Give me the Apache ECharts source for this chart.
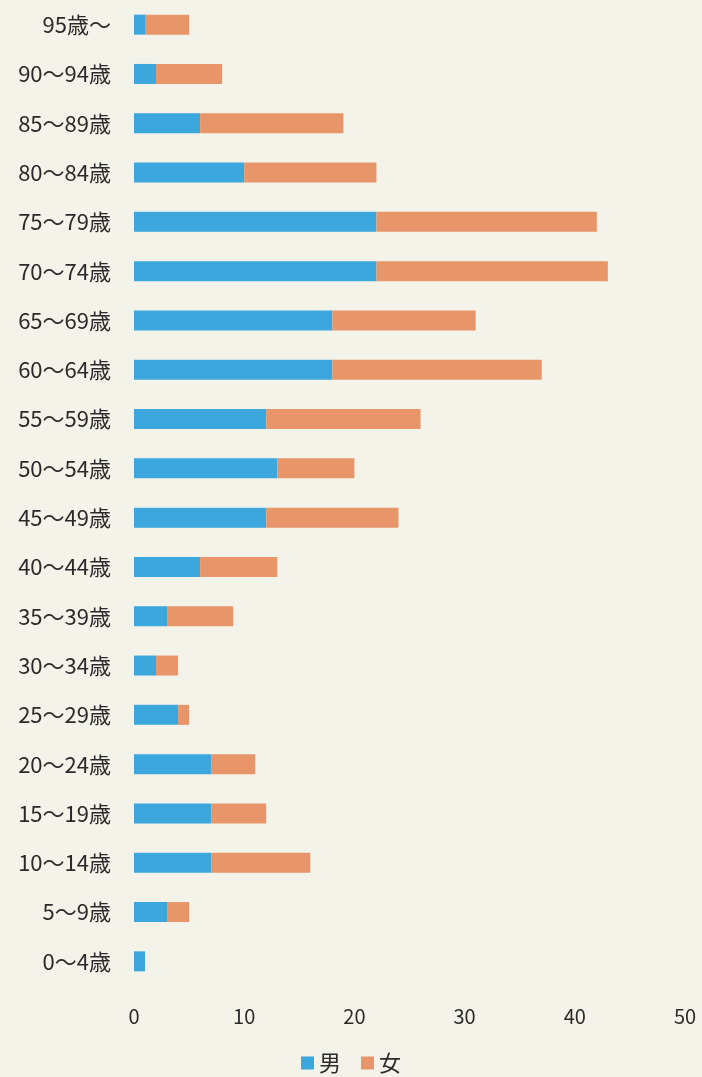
<!DOCTYPE html>
<html><head><meta charset="utf-8">
<script src="https://cdn.jsdelivr.net/npm/echarts@6/dist/echarts.min.js"></script>
<style>html,body{margin:0;padding:0;background:#f4f3ea;}#c{width:702px;height:1077px;}</style>
</head><body><div id="c"></div>
<script>
const categories = ['0～4歳','5～9歳','10～14歳','15～19歳','20～24歳','25～29歳','30～34歳','35～39歳','40～44歳','45～49歳','50～54歳','55～59歳','60～64歳','65～69歳','70～74歳','75～79歳','80～84歳','85～89歳','90～94歳','95歳～'];
const male   = [1,3,7,7,7,4,2,3,6,12,13,12,18,18,22,22,10,6,2,1];
const female = [0,2,9,5,4,1,2,6,7,12,7,14,19,13,21,20,12,13,6,4];
const xTicks = [0,10,20,30,40,50];
const font = '"Noto Sans CJK JP", "Noto Sans", sans-serif';
const chart = echarts.init(document.getElementById('c'));
chart.setOption({
  backgroundColor: '#f4f3ea',
  animation: false,
  textStyle: {fontFamily: font},
  grid: {left: 134, right: 17, top: -2, height: 988, containLabel: false},
  xAxis: {type: 'value', min: xTicks[0], max: xTicks[xTicks.length-1], interval: 10,
    axisLine: {show: false}, axisTick: {show: false}, splitLine: {show: false},
    axisLabel: {color: '#2a2a2a', fontSize: 20, margin: 20, fontFamily: font}},
  yAxis: {type: 'category', data: categories,
    axisLine: {show: false}, axisTick: {show: false},
    axisLabel: {color: '#2a2a2a', fontSize: 22, margin: 23, fontFamily: font}},
  legend: {bottom: -2, left: 'center', itemWidth: 13, itemHeight: 13, itemGap: 20,
    icon: 'rect', textStyle: {fontSize: 22, color: '#2a2a2a', fontFamily: font},
    data: ['男','女']},
  series: [
    {name: '男', type: 'bar', stack: 't', data: male, barWidth: 20,
     itemStyle: {color: '#3ba7dc'}},
    {name: '女', type: 'bar', stack: 't', data: female, barWidth: 20,
     itemStyle: {color: '#e8956a'}}
  ]
});
</script></body></html>
